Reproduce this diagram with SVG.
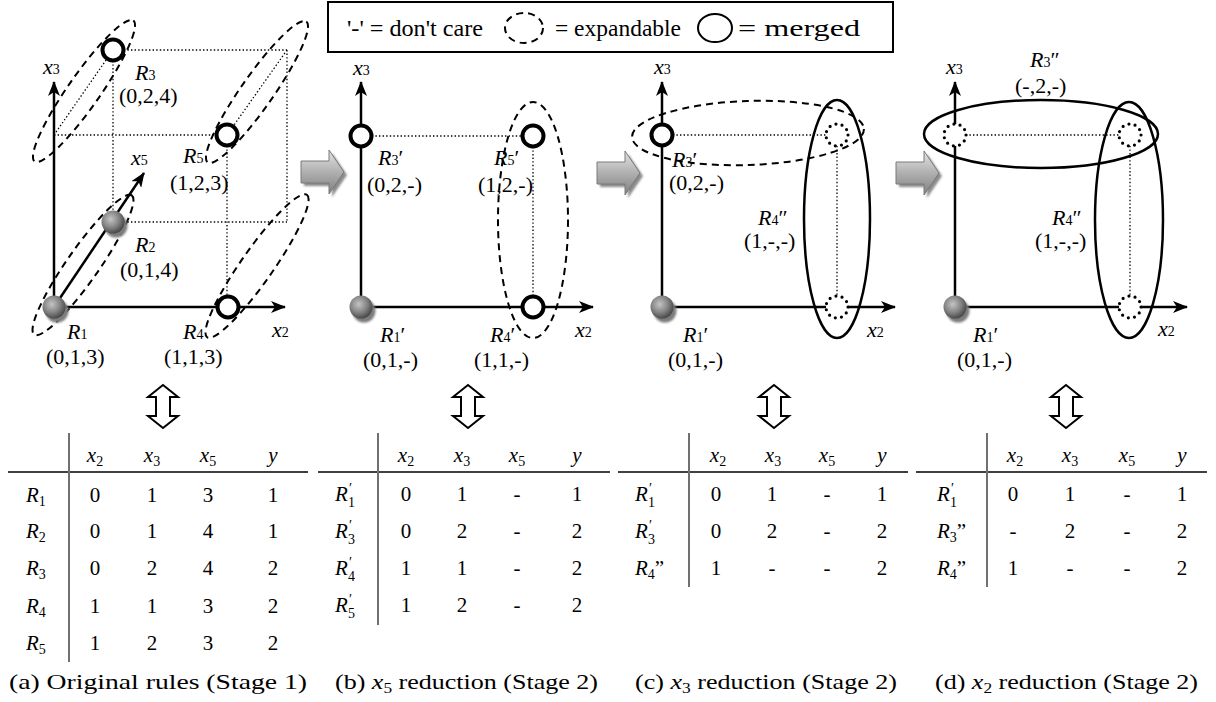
<svg xmlns="http://www.w3.org/2000/svg" width="1216" height="702" viewBox="0 0 1216 702" font-family="'Liberation Serif', serif">
<defs>
<style>
 text{font-family:'Liberation Serif',serif;fill:#000}
 .lb{font-size:22px}
 .it{font-style:italic}
 .s{font-size:14px}
 .tb{font-size:21px}
 .ts{font-size:14px}
 .dot{fill:none;stroke:#000;stroke-width:1.3;stroke-dasharray:1.4 2.2}
 .dash{fill:none;stroke:#000;stroke-width:2;stroke-dasharray:7 5}
 .solid{fill:none;stroke:#000;stroke-width:2.5}
 .axis{fill:none;stroke:#000;stroke-width:2.5;marker-end:url(#ah)}
 .open{fill:#fff;stroke:#000;stroke-width:4}
 .dc{fill:#fff;stroke:#000;stroke-width:3.2;stroke-dasharray:0 6.3;stroke-linecap:round}
 .rule{stroke:#000;stroke-width:1.3}
 .vr{stroke:#707070;stroke-width:2}
 .dbl{fill:#fff;stroke:#000;stroke-width:2}
 .blk{fill:url(#gA);stroke:#7a7a7a;stroke-width:1}
 .bsh{fill:#8a8a8a;filter:url(#soft)}
 .shd{fill:#7c7c7c;filter:url(#soft)}
 .ball{fill:url(#sph)}
</style>
<marker id="ah" viewBox="0 0 15 12" refX="14" refY="6" markerWidth="15" markerHeight="12" markerUnits="userSpaceOnUse" orient="auto">
 <path d="M0,0 L15,6 L0,12 L4,6 Z" fill="#000"/>
</marker>
<radialGradient id="sph" cx="0.4" cy="0.38" r="0.65">
 <stop offset="0" stop-color="#c4c4c4"/>
 <stop offset="0.55" stop-color="#858585"/>
 <stop offset="1" stop-color="#454545"/>
</radialGradient>
<linearGradient id="gA" x1="0" y1="0" x2="0" y2="1">
 <stop offset="0" stop-color="#e4e4e4"/>
 <stop offset="0.5" stop-color="#b0b0b0"/>
 <stop offset="1" stop-color="#808080"/>
</linearGradient>
<filter id="soft" x="-30%" y="-30%" width="160%" height="160%">
 <feGaussianBlur stdDeviation="1.2"/>
</filter>
<path id="barrow" d="M0,-11 H28 V-22 L43,0 L28,22 V11 H0 Z"/>
<path id="dblarrow" d="M0,0 L15,12 H7 V31 H15 L0,43 L-15,31 H-7 V12 H-15 Z"/>
</defs>

<rect x="0" y="0" width="1216" height="702" fill="#fff"/>

<!-- legend -->
<g id="legend">
 <rect x="328" y="2" width="565" height="50" fill="#fff" stroke="#000" stroke-width="2"/>
 <text font-size="24" x="347" y="36" textLength="136" lengthAdjust="spacingAndGlyphs">'-' = don't care</text>
 <ellipse cx="524" cy="28" rx="19" ry="15" class="dash" stroke-dasharray="6 5"/>
 <text font-size="24" x="555" y="36" textLength="126" lengthAdjust="spacingAndGlyphs">= expandable</text>
 <ellipse cx="715" cy="28" rx="17" ry="14" fill="none" stroke="#000" stroke-width="2"/>
 <text font-size="24" x="738" y="36" textLength="122" lengthAdjust="spacingAndGlyphs">= merged</text>
</g>

<!-- stage arrows between panels -->
<g id="stage-arrows">
 <use href="#barrow" class="bsh" transform="translate(304,175)"/>
 <use href="#barrow" class="blk" transform="translate(301,172)"/>
 <use href="#barrow" class="bsh" transform="translate(600,176)"/>
 <use href="#barrow" class="blk" transform="translate(597,173)"/>
 <use href="#barrow" class="bsh" transform="translate(899,176)"/>
 <use href="#barrow" class="blk" transform="translate(896,173)"/>
</g>

<!-- connectors: cube edges, grid lines, axes -->
<g id="connectors">
 <!-- panel a -->
 <path class="dot" d="M54,135 H227 M54,135 L113,50 M113,50 H287 M287,50 L227,135 M113,50 V222 M287,50 V222 M113,222 H287 M227,135 V307"/>
 <line class="axis" x1="54" y1="307" x2="54" y2="82"/>
 <line class="axis" x1="54" y1="307" x2="285" y2="307"/>
 <line class="axis" x1="54" y1="307" x2="144" y2="173"/>
 <!-- panel b -->
 <path class="dot" d="M361,136 H533 M533,136 V307"/>
 <line class="axis" x1="361" y1="307" x2="361" y2="82"/>
 <line class="axis" x1="361" y1="307" x2="593" y2="307"/>
 <!-- panel c -->
 <path class="dot" d="M662,135 H837 M837,135 V307"/>
 <line class="axis" x1="662" y1="307" x2="662" y2="82"/>
 <line class="axis" x1="662" y1="307" x2="895" y2="307"/>
 <!-- panel d -->
 <path class="dot" d="M955,135 H1130 M1130,135 V307"/>
 <line class="axis" x1="955" y1="307" x2="955" y2="82"/>
 <line class="axis" x1="955" y1="307" x2="1187" y2="307"/>
</g>

<!-- groupings -->
<g id="groupings">
 <ellipse class="dash" cx="84" cy="91" rx="86" ry="16" transform="rotate(-55 84 91)"/>
 <ellipse class="dash" cx="257" cy="92" rx="86" ry="16" transform="rotate(-55 257 92)"/>
 <ellipse class="dash" cx="83" cy="265" rx="85" ry="16" transform="rotate(-55 83 265)"/>
 <ellipse class="dash" cx="257" cy="266" rx="87" ry="16" transform="rotate(-55 257 266)"/>
 <ellipse class="dash" cx="533" cy="220" rx="35" ry="118"/>
 <ellipse class="dash" cx="748" cy="133" rx="116" ry="32" transform="rotate(-2 748 133)"/>
 <ellipse class="solid" cx="837" cy="219" rx="33" ry="119"/>
 <ellipse class="solid" cx="1041" cy="134" rx="117" ry="34"/>
 <ellipse class="solid" cx="1129" cy="220" rx="34" ry="118"/>
</g>

<!-- axis labels -->
<g id="axis-labels" class="lb">
 <text x="43" y="74"><tspan class="it">x</tspan><tspan class="s">3</tspan></text>
 <text x="131" y="165"><tspan class="it">x</tspan><tspan class="s">5</tspan></text>
 <text x="272" y="337"><tspan class="it">x</tspan><tspan class="s">2</tspan></text>
 <text x="353" y="75"><tspan class="it">x</tspan><tspan class="s">3</tspan></text>
 <text x="575" y="337"><tspan class="it">x</tspan><tspan class="s">2</tspan></text>
 <text x="654" y="74"><tspan class="it">x</tspan><tspan class="s">3</tspan></text>
 <text x="867" y="337"><tspan class="it">x</tspan><tspan class="s">2</tspan></text>
 <text x="946" y="74"><tspan class="it">x</tspan><tspan class="s">3</tspan></text>
 <text x="1158" y="336"><tspan class="it">x</tspan><tspan class="s">2</tspan></text>
</g>

<!-- panel a rules -->
<g id="a-R1">
 <circle class="shd" cx="57" cy="311" r="11.5"/><circle class="ball" cx="54" cy="307" r="11.5"/>
 <text class="lb" x="67" y="339"><tspan class="it">R</tspan><tspan class="s">1</tspan></text>
 <text class="lb" x="46" y="364">(0,1,3)</text>
</g>
<g id="a-R2">
 <circle class="shd" cx="116" cy="226" r="11.5"/><circle class="ball" cx="113" cy="222" r="11.5"/>
 <text class="lb" x="135" y="252"><tspan class="it">R</tspan><tspan class="s">2</tspan></text>
 <text class="lb" x="120" y="277">(0,1,4)</text>
</g>
<g id="a-R3">
 <circle class="open" cx="113" cy="50" r="10.5"/>
 <text class="lb" x="135" y="80"><tspan class="it">R</tspan><tspan class="s">3</tspan></text>
 <text class="lb" x="119" y="103">(0,2,4)</text>
</g>
<g id="a-R4">
 <circle class="open" cx="228" cy="307" r="10.5"/>
 <text class="lb" x="183" y="339"><tspan class="it">R</tspan><tspan class="s">4</tspan></text>
 <text class="lb" x="164" y="364">(1,1,3)</text>
</g>
<g id="a-R5">
 <circle class="open" cx="227" cy="135" r="10.5"/>
 <text class="lb" x="183" y="163"><tspan class="it">R</tspan><tspan class="s">5</tspan></text>
 <text class="lb" x="170" y="190">(1,2,3)</text>
</g>

<!-- panel b rules -->
<g id="b-R1">
 <circle class="shd" cx="364" cy="311" r="11.5"/><circle class="ball" cx="361" cy="307" r="11.5"/>
 <text class="lb" x="380" y="342"><tspan class="it">R</tspan><tspan class="s">1</tspan>′</text>
 <text class="lb" x="363" y="367">(0,1,-)</text>
</g>
<g id="b-R3">
 <circle class="open" cx="361" cy="136" r="10.5"/>
 <text class="lb" x="378" y="165"><tspan class="it">R</tspan><tspan class="s">3</tspan>′</text>
 <text class="lb" x="367" y="192">(0,2,-)</text>
</g>
<g id="b-R5">
 <circle class="open" cx="533" cy="136" r="10.5"/>
 <text class="lb" x="494" y="165"><tspan class="it">R</tspan><tspan class="s">5</tspan>′</text>
 <text class="lb" x="478" y="192">(1,2,-)</text>
</g>
<g id="b-R4">
 <circle class="open" cx="533" cy="307" r="10.5"/>
 <text class="lb" x="490" y="342"><tspan class="it">R</tspan><tspan class="s">4</tspan>′</text>
 <text class="lb" x="474" y="367">(1,1,-)</text>
</g>

<!-- panel c rules -->
<g id="c-R1">
 <circle class="shd" cx="665" cy="311" r="11.5"/><circle class="ball" cx="662" cy="307" r="11.5"/>
 <text class="lb" x="683" y="342"><tspan class="it">R</tspan><tspan class="s">1</tspan>′</text>
 <text class="lb" x="668" y="367">(0,1,-)</text>
</g>
<g id="c-R3">
 <circle class="open" cx="662" cy="135" r="10.5"/>
 <text class="lb" x="672" y="167"><tspan class="it">R</tspan><tspan class="s">3</tspan>′</text>
 <text class="lb" x="669" y="190">(0,2,-)</text>
</g>
<g id="c-R4">
 <circle class="dc" cx="837" cy="135" r="11"/>
 <circle class="dc" cx="837" cy="307" r="11"/>
 <text class="lb" x="758" y="225"><tspan class="it">R</tspan><tspan class="s">4</tspan>″</text>
 <text class="lb" x="744" y="248">(1,-,-)</text>
</g>

<!-- panel d rules -->
<g id="d-R1">
 <circle class="shd" cx="958" cy="311" r="11.5"/><circle class="ball" cx="955" cy="307" r="11.5"/>
 <text class="lb" x="973" y="342"><tspan class="it">R</tspan><tspan class="s">1</tspan>′</text>
 <text class="lb" x="957" y="367">(0,1,-)</text>
</g>
<g id="d-R3">
 <circle class="dc" cx="955" cy="135" r="11"/>
 <circle class="dc" cx="1130" cy="135" r="11"/>
 <text class="lb" x="1030" y="67"><tspan class="it">R</tspan><tspan class="s">3</tspan>″</text>
 <text class="lb" x="1015" y="93">(-,2,-)</text>
</g>
<g id="d-R4">
 <circle class="dc" cx="1130" cy="307" r="11"/>
 <text class="lb" x="1052" y="225"><tspan class="it">R</tspan><tspan class="s">4</tspan>″</text>
 <text class="lb" x="1035" y="248">(1,-,-)</text>
</g>

<!-- equivalence arrows -->
<g id="equiv">
 <use href="#dblarrow" class="dbl" transform="translate(163,385)"/>
 <use href="#dblarrow" class="dbl" transform="translate(468,385)"/>
 <use href="#dblarrow" class="dbl" transform="translate(774,385)"/>
 <use href="#dblarrow" class="dbl" transform="translate(1066,385)"/>
</g>

<!-- table a -->
<g id="table-a" class="tb" text-anchor="middle">
 <line class="rule" x1="8" y1="472" x2="308" y2="472"/>
 <line class="vr" x1="69" y1="433" x2="69" y2="662"/>
 <text x="95" y="462"><tspan class="it">x</tspan><tspan class="ts" dy="4">2</tspan></text>
 <text x="152" y="462"><tspan class="it">x</tspan><tspan class="ts" dy="4">3</tspan></text>
 <text x="208" y="462"><tspan class="it">x</tspan><tspan class="ts" dy="4">5</tspan></text>
 <text x="273" y="462" class="it">y</text>
 <g text-anchor="start">
  <text x="26" y="502"><tspan class="it">R</tspan><tspan class="ts" dy="4">1</tspan></text>
  <text x="26" y="538"><tspan class="it">R</tspan><tspan class="ts" dy="4">2</tspan></text>
  <text x="26" y="575"><tspan class="it">R</tspan><tspan class="ts" dy="4">3</tspan></text>
  <text x="26" y="613"><tspan class="it">R</tspan><tspan class="ts" dy="4">4</tspan></text>
  <text x="26" y="650"><tspan class="it">R</tspan><tspan class="ts" dy="4">5</tspan></text>
 </g>
 <text x="95" y="502">0</text><text x="152" y="502">1</text><text x="208" y="502">3</text><text x="273" y="502">1</text>
 <text x="95" y="538">0</text><text x="152" y="538">1</text><text x="208" y="538">4</text><text x="273" y="538">1</text>
 <text x="95" y="575">0</text><text x="152" y="575">2</text><text x="208" y="575">4</text><text x="273" y="575">2</text>
 <text x="95" y="613">1</text><text x="152" y="613">1</text><text x="208" y="613">3</text><text x="273" y="613">2</text>
 <text x="95" y="650">1</text><text x="152" y="650">2</text><text x="208" y="650">3</text><text x="273" y="650">2</text>
 <text x="9" y="689" text-anchor="start" textLength="298" lengthAdjust="spacingAndGlyphs">(a) Original rules (Stage 1)</text>
</g>

<!-- table b -->
<g id="table-b" class="tb" text-anchor="middle">
 <line class="rule" x1="318" y1="472" x2="610" y2="472"/>
 <line class="vr" x1="378" y1="433" x2="378" y2="625"/>
 <text x="406" y="462"><tspan class="it">x</tspan><tspan class="ts" dy="4">2</tspan></text>
 <text x="462" y="462"><tspan class="it">x</tspan><tspan class="ts" dy="4">3</tspan></text>
 <text x="517" y="462"><tspan class="it">x</tspan><tspan class="ts" dy="4">5</tspan></text>
 <text x="577" y="462" class="it">y</text>
 <g text-anchor="start">
  <text x="335" y="501"><tspan class="it">R</tspan><tspan class="ts" x="349" y="493">′</tspan><tspan class="ts" x="348" y="507">1</tspan></text>
  <text x="335" y="538"><tspan class="it">R</tspan><tspan class="ts" x="349" y="530">′</tspan><tspan class="ts" x="348" y="544">3</tspan></text>
  <text x="335" y="575"><tspan class="it">R</tspan><tspan class="ts" x="349" y="567">′</tspan><tspan class="ts" x="348" y="581">4</tspan></text>
  <text x="335" y="612"><tspan class="it">R</tspan><tspan class="ts" x="349" y="604">′</tspan><tspan class="ts" x="348" y="618">5</tspan></text>
 </g>
 <text x="406" y="501">0</text><text x="462" y="501">1</text><text x="517" y="501">-</text><text x="577" y="501">1</text>
 <text x="406" y="538">0</text><text x="462" y="538">2</text><text x="517" y="538">-</text><text x="577" y="538">2</text>
 <text x="406" y="575">1</text><text x="462" y="575">1</text><text x="517" y="575">-</text><text x="577" y="575">2</text>
 <text x="406" y="612">1</text><text x="462" y="612">2</text><text x="517" y="612">-</text><text x="577" y="612">2</text>
 <text x="335" y="689" text-anchor="start" textLength="263" lengthAdjust="spacingAndGlyphs">(b) <tspan class="it">x</tspan><tspan class="ts" dy="4">5</tspan><tspan dy="-4"> reduction (Stage 2)</tspan></text>
</g>

<!-- table c -->
<g id="table-c" class="tb" text-anchor="middle">
 <line class="rule" x1="618" y1="472" x2="908" y2="472"/>
 <line class="vr" x1="689" y1="433" x2="689" y2="587"/>
 <text x="718" y="462"><tspan class="it">x</tspan><tspan class="ts" dy="4">2</tspan></text>
 <text x="773" y="462"><tspan class="it">x</tspan><tspan class="ts" dy="4">3</tspan></text>
 <text x="827" y="462"><tspan class="it">x</tspan><tspan class="ts" dy="4">5</tspan></text>
 <text x="882" y="462" class="it">y</text>
 <g text-anchor="start">
  <text x="635" y="501"><tspan class="it">R</tspan><tspan class="ts" x="649" y="493">′</tspan><tspan class="ts" x="648" y="507">1</tspan></text>
  <text x="635" y="538"><tspan class="it">R</tspan><tspan class="ts" x="649" y="530">′</tspan><tspan class="ts" x="648" y="544">3</tspan></text>
  <text x="635" y="575"><tspan class="it">R</tspan><tspan class="ts" dy="4">4</tspan><tspan dy="-4">”</tspan></text>
 </g>
 <text x="716" y="501">0</text><text x="772" y="501">1</text><text x="827" y="501">-</text><text x="882" y="501">1</text>
 <text x="716" y="538">0</text><text x="772" y="538">2</text><text x="827" y="538">-</text><text x="882" y="538">2</text>
 <text x="716" y="575">1</text><text x="772" y="575">-</text><text x="827" y="575">-</text><text x="882" y="575">2</text>
 <text x="635" y="689" text-anchor="start" textLength="262" lengthAdjust="spacingAndGlyphs">(c) <tspan class="it">x</tspan><tspan class="ts" dy="4">3</tspan><tspan dy="-4"> reduction (Stage 2)</tspan></text>
</g>

<!-- table d -->
<g id="table-d" class="tb" text-anchor="middle">
 <line class="rule" x1="916" y1="472" x2="1207" y2="472"/>
 <line class="vr" x1="987" y1="433" x2="987" y2="587"/>
 <text x="1015" y="462"><tspan class="it">x</tspan><tspan class="ts" dy="4">2</tspan></text>
 <text x="1070" y="462"><tspan class="it">x</tspan><tspan class="ts" dy="4">3</tspan></text>
 <text x="1127" y="462"><tspan class="it">x</tspan><tspan class="ts" dy="4">5</tspan></text>
 <text x="1182" y="462" class="it">y</text>
 <g text-anchor="start">
  <text x="937" y="501"><tspan class="it">R</tspan><tspan class="ts" x="951" y="493">′</tspan><tspan class="ts" x="950" y="507">1</tspan></text>
  <text x="937" y="538"><tspan class="it">R</tspan><tspan class="ts" dy="4">3</tspan><tspan dy="-4">”</tspan></text>
  <text x="937" y="575"><tspan class="it">R</tspan><tspan class="ts" dy="4">4</tspan><tspan dy="-4">”</tspan></text>
 </g>
 <text x="1013" y="501">0</text><text x="1070" y="501">1</text><text x="1127" y="501">-</text><text x="1182" y="501">1</text>
 <text x="1013" y="538">-</text><text x="1070" y="538">2</text><text x="1127" y="538">-</text><text x="1182" y="538">2</text>
 <text x="1013" y="575">1</text><text x="1070" y="575">-</text><text x="1127" y="575">-</text><text x="1182" y="575">2</text>
 <text x="935" y="689" text-anchor="start" textLength="263" lengthAdjust="spacingAndGlyphs">(d) <tspan class="it">x</tspan><tspan class="ts" dy="4">2</tspan><tspan dy="-4"> reduction (Stage 2)</tspan></text>
</g>
</svg>
